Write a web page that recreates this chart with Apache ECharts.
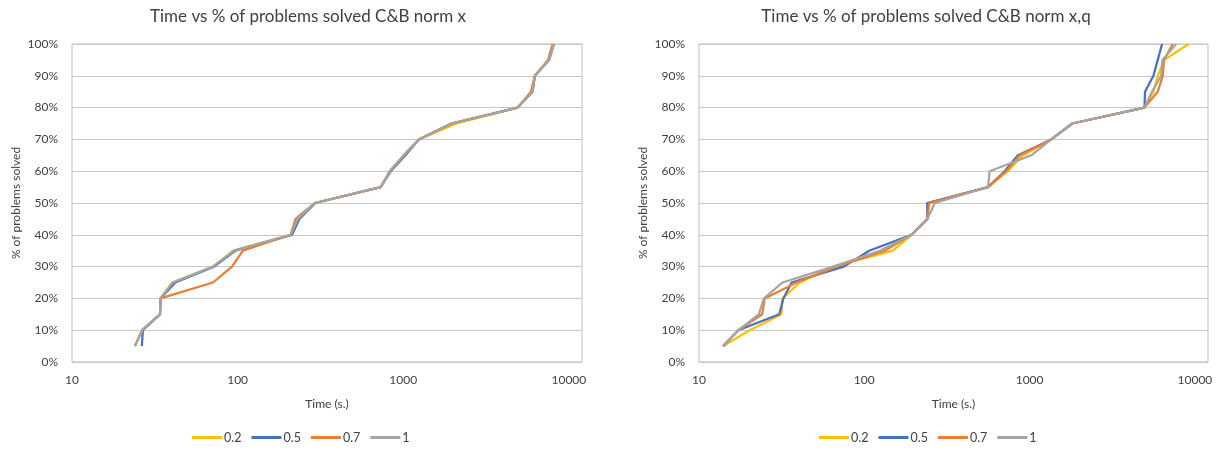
<!DOCTYPE html>
<html>
<head>
<meta charset="utf-8">
<script src="https://cdn.jsdelivr.net/npm/echarts@6/dist/echarts.min.js"></script>
<style>
  html, body { margin: 0; padding: 0; background: #ffffff; }
  #chart { width: 1224px; height: 450px; }
</style>
</head>
<body>
<div id="chart"></div>
<script>
// Share of the benchmark solved (one step per problem, 20 problems)
const pctSolved = [5, 10, 15, 20, 25, 30, 35, 40, 45, 50, 55, 60, 65, 70, 75, 80, 85, 90, 95, 100];

const seriesNames = ['0.2', '0.5', '0.7', '1'];
const seriesColors = ['#FFC000', '#4472C4', '#ED7D31', '#A5A5A5'];

// C&B norm x: time (s) at which each share of problems was solved
const normX_02 = [24, 26.5, 34, 34.2, 40.3, 71, 94, 209, 229, 292, 731, 829, 1007, 1241, 2095, 4900, 6035, 6230, 7500, 8000];
const normX_05 = [26.4, 26.8, 34, 34.2, 42, 72, 97, 213, 236, 295, 731, 840, 1030, 1241, 1955, 4900, 6035, 6230, 7600, 8120];
const normX_07 = [24, 26.5, 34, 34.2, 71, 92.5, 107.6, 209, 224, 292, 731, 829, 1007, 1241, 1955, 4900, 5900, 6230, 7500, 7970];
const normX_1  = [24, 26.5, 34, 34.2, 40.6, 71, 95, 209, 231, 292, 731, 829, 1007, 1241, 1955, 4900, 6035, 6230, 7600, 8120];

// C&B norm x,q
const normXQ_02 = [14, 20.3, 31.6, 32, 40.8, 64.8, 149, 193, 241, 244, 560, 737, 912, 1352, 1811, 4955, 5610, 5960, 6530, 9180];
const normXQ_05 = [14, 17.3, 30.6, 32.4, 36.3, 75.2, 107, 193, 241, 240, 560, 706, 850, 1352, 1811, 4955, 4990, 5610, 5960, 6330];
const normXQ_07 = [14, 17.3, 24.1, 25, 38.9, 67.9, 133, 193, 241, 246.6, 560, 723, 872, 1352, 1811, 4955, 5960, 6390, 6500, 7350];
const normXQ_1  = [14, 17.3, 23, 24.7, 32, 64.8, 124, 193, 241, 267, 560, 573, 1024, 1352, 1811, 4955, 5500, 6250, 6360, 7700];

const xTickValues = [10, 100, 1000, 10000];

const chartTitles = ['Time vs % of problems solved C&B norm x', 'Time vs % of problems solved C&B norm x,q'];
const xAxisTitle = 'Time (s.)';
const yAxisTitle = '% of problems solved';

const panels = [
  [normX_02, normX_05, normX_07, normX_1],
  [normXQ_02, normXQ_05, normXQ_07, normXQ_1]
];

const FONT = 'Lato';
const TEXT = '#404040';

const gridBoxes = [
  { left: 72, top: 44, width: 510, height: 318 },
  { left: 699, top: 44, width: 509, height: 318 }
];
const titleCenters = [303, 921];
const legendLefts = [192, 819];

function pairs(times) {
  return times.map((t, i) => [t, pctSolved[i]]);
}

const option = {
  animation: false,
  backgroundColor: '#ffffff',
  textStyle: { fontFamily: FONT },
  title: chartTitles.map((t, i) => ({
    text: t,
    left: titleCenters[i],
    top: 3,
    textAlign: 'center',
    textStyle: { fontFamily: FONT, fontSize: 17, fontWeight: 'normal', color: TEXT }
  })),
  legend: legendLefts.map(l => ({
    data: seriesNames,
    left: l,
    top: 431,
    padding: 0,
    icon: 'rect',
    itemWidth: 30,
    itemHeight: 3,
    itemGap: 10,
    selectedMode: false,
    textStyle: { fontFamily: FONT, fontSize: 12.5, color: TEXT, padding: [0, 0, 0, -3] }
  })),
  grid: gridBoxes.map(g => ({
    left: g.left, top: g.top, width: g.width, height: g.height,
    show: true, borderColor: '#BFBFBF', borderWidth: 1, containLabel: false
  })),
  xAxis: gridBoxes.map((g, i) => ({
    type: 'log',
    logBase: 10,
    gridIndex: i,
    min: 10,
    max: 12000,
    name: xAxisTitle,
    nameLocation: 'middle',
    nameGap: 36,
    nameTextStyle: { fontFamily: FONT, fontSize: 12, color: TEXT },
    axisLine: { show: false },
    axisTick: { show: false },
    splitLine: { show: false },
    axisLabel: {
      fontFamily: FONT, fontSize: 12, color: TEXT, margin: 12,
      showMaxLabel: false,
      formatter: v => {
        const hit = xTickValues.find(t => Math.abs(t - v) / t < 1e-6);
        return hit ? String(hit) : '';
      }
    }
  })),
  yAxis: gridBoxes.map((g, i) => ({
    type: 'value',
    gridIndex: i,
    min: 0,
    max: 100,
    interval: 10,
    name: yAxisTitle,
    nameLocation: 'middle',
    nameRotate: 90,
    nameGap: 50,
    nameTextStyle: { fontFamily: FONT, fontSize: 12, color: TEXT },
    axisLine: { show: false },
    axisTick: { show: false },
    splitLine: { show: true, lineStyle: { color: '#C8C8C8', width: 1 } },
    axisLabel: { fontFamily: FONT, fontSize: 12, color: TEXT, margin: 14, formatter: '{value}%' }
  })),
  series: []
};

panels.forEach((panel, p) => {
  panel.forEach((times, s) => {
    option.series.push({
      name: seriesNames[s],
      type: 'line',
      xAxisIndex: p,
      yAxisIndex: p,
      data: pairs(times),
      symbol: 'none',
      showSymbol: false,
      color: seriesColors[s],
      lineStyle: { width: 2.25, color: seriesColors[s] },
      z: 2 + s
    });
  });
});

const chart = echarts.init(document.getElementById('chart'), null, { renderer: 'canvas' });
chart.setOption(option);
</script>
</body>
</html>
